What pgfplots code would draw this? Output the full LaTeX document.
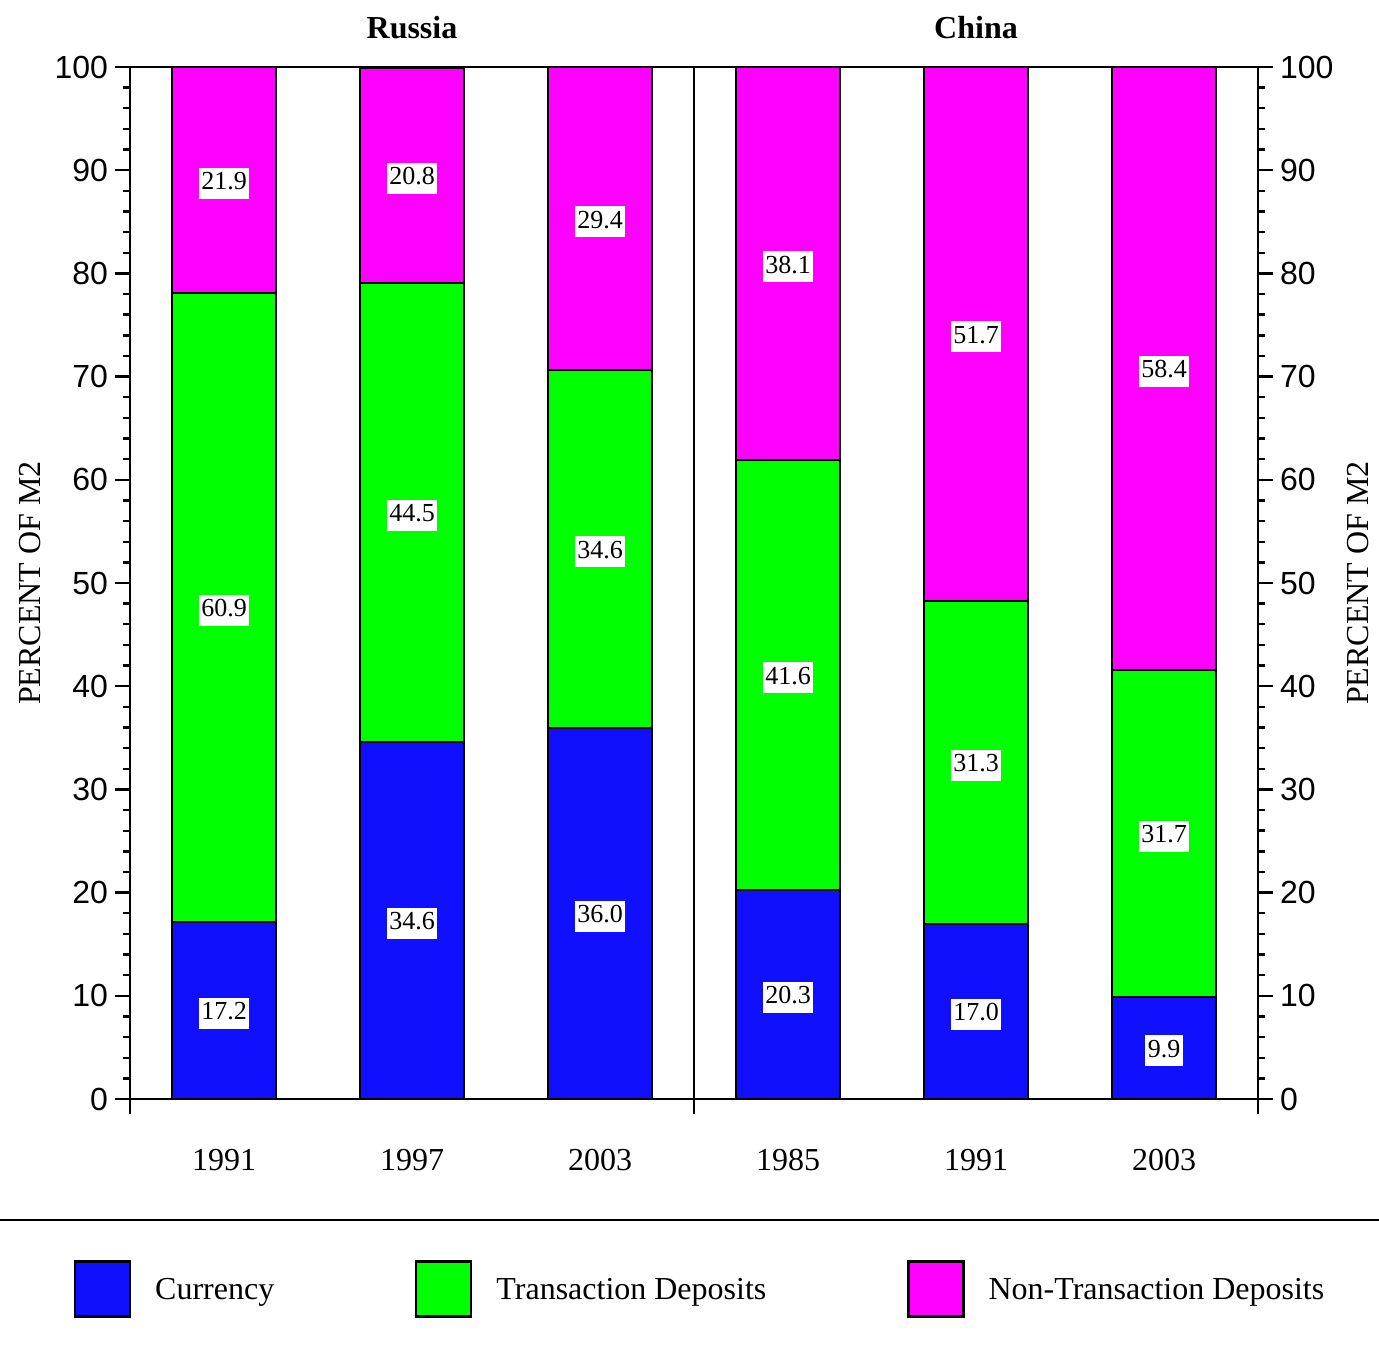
\documentclass[border=0pt]{standalone}
\usepackage{pgfplots}
\pgfplotsset{compat=1.18}
\usepackage{fontspec}
\setmainfont{Liberation Serif}
\setsansfont{Liberation Sans}
\definecolor{cur}{RGB}{16,16,255}
\definecolor{tra}{RGB}{0,255,0}
\definecolor{non}{RGB}{255,0,255}
\pgfplotsset{
  common/.style={
    at={(65pt,-549.5pt)}, anchor=south west,
    scale only axis, width=564pt, height=516pt,
    xmin=-0.5, xmax=5.5, ymin=0, ymax=100,
    axis line style={line width=1.2pt},
    tick align=outside,
    major tick length=7.5pt, minor tick length=3.5pt,
    every tick/.style={black, line width=1.2pt},
    ytick={0,10,...,100}, minor y tick num=4,
    /pgf/number format/assume math mode=true,
    y tick label style={font=\sffamily\fontsize{16}{18}\selectfont},
    ylabel={PERCENT OF M2},
    ylabel style={font=\fontsize{16}{18}\selectfont},
  },
  myleg/.style={legend image code/.code={\path (0pt,0pt); \draw[##1,line width=1.2pt] (58.5pt,-13pt) rectangle (86pt,14.5pt);}},
}
\begin{document}
\begin{tikzpicture}
\path[use as bounding box] (0,0) rectangle (689.5pt,-677.5pt);
\begin{axis}[common,
  ybar stacked, bar width=52pt,
  ytick pos=left,
  xtick={-0.5,2.5,5.5}, xticklabels={}, xtick pos=bottom,
  legend columns=3,
  legend style={at={(axis description cs:0,0)}, anchor=west, xshift=-86.5pt, yshift=-95pt,
    draw=none, fill=none, inner sep=0pt, outer sep=0pt,
    font=\fontsize{16}{18}\selectfont, nodes={inner sep=0pt}, column sep=12pt},
]
\addplot[fill=cur, draw=black, line width=1pt, myleg] coordinates {(0,17.2) (1,34.6) (2,36.0) (3,20.3) (4,17.0) (5,9.9)};
\addplot[fill=tra, draw=black, line width=1pt, myleg] coordinates {(0,60.9) (1,44.5) (2,34.6) (3,41.6) (4,31.3) (5,31.7)};
\addplot[fill=non, draw=black, line width=1pt, myleg] coordinates {(0,21.9) (1,20.8) (2,29.4) (3,38.1) (4,51.7) (5,58.4)};
\legend{Currency, Transaction Deposits, Non-Transaction Deposits}
\draw[line width=1pt] (axis cs:2.5,0) -- (axis cs:2.5,100);
\end{axis}
\begin{axis}[common, clip=false,
  ytick pos=right, yticklabel pos=right,
  xtick={0,...,5}, xticklabels={1991,1997,2003,1985,1991,2003}, xtick pos=bottom,
  xtick style={draw=none},
  x tick label style={font=\fontsize{16}{18}\selectfont, yshift=-14pt},
]
\addplot[only marks, mark=none, nodes near coords, point meta=explicit symbolic,
  nodes near coords align={center},
  every node near coord/.append style={anchor=center, fill=white, text=black,
    font=\fontsize{13}{15}\selectfont, inner xsep=1.2pt, inner ysep=2pt,
    text height=9pt, text depth=2.5pt, yshift=-1.5pt}]
  table[meta=label] {
x y label
0 8.6 17.2
0 47.65 60.9
0 89.05 21.9
1 17.3 34.6
1 56.85 44.5
1 89.5 20.8
2 18.0 36.0
2 53.3 34.6
2 85.3 29.4
3 10.15 20.3
3 41.1 41.6
3 80.95 38.1
4 8.5 17.0
4 32.65 31.3
4 74.15 51.7
5 4.95 9.9
5 25.75 31.7
5 70.8 58.4
};
\node[font=\bfseries\fontsize{16}{18}\selectfont] at (axis cs:1,100) [yshift=19.5pt] {Russia};
\node[font=\bfseries\fontsize{16}{18}\selectfont] at (axis cs:4,100) [yshift=19.5pt] {China};
\end{axis}
\draw[line width=1.3pt] (0,-610pt) -- (689.5pt,-610pt);
\end{tikzpicture}
\end{document}
